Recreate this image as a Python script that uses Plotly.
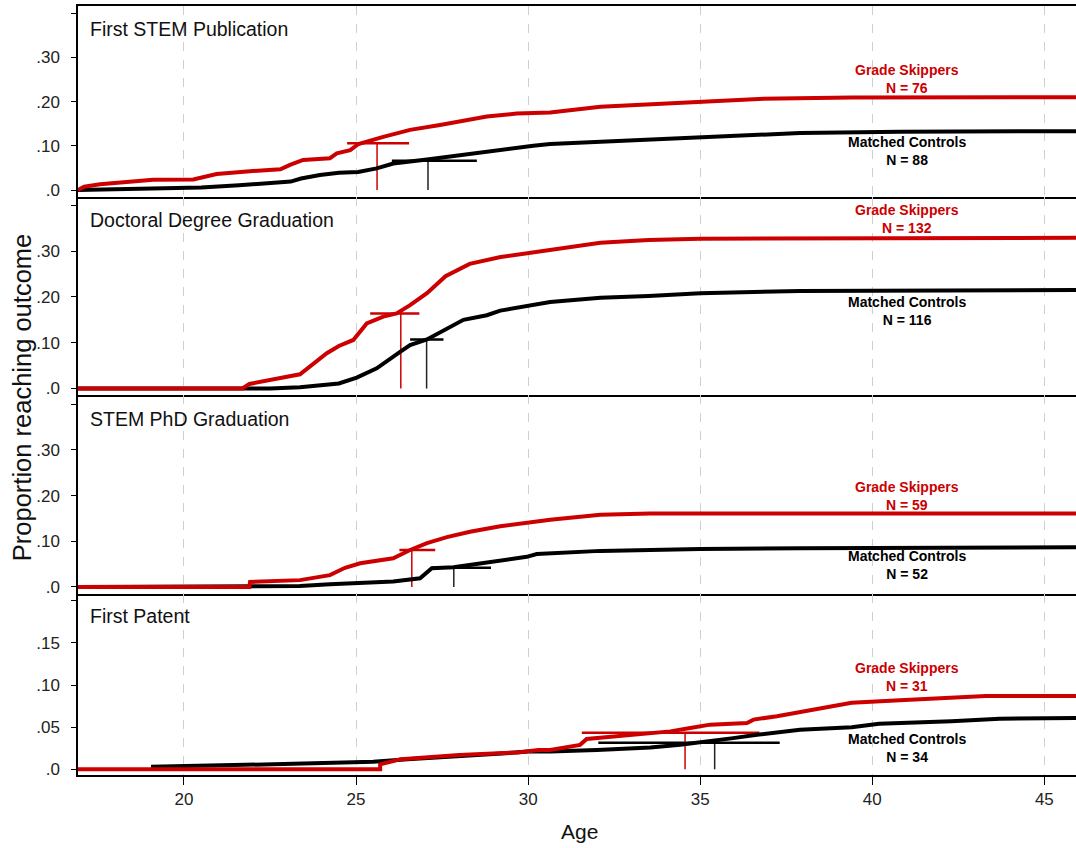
import plotly.graph_objects as go

# ---------------- data ----------------
panel_titles = ["First STEM Publication", "Doctoral Degree Graduation",
                "STEM PhD Graduation", "First Patent"]
n_skippers = [76, 132, 59, 31]
n_controls = [88, 116, 52, 34]

# First STEM Publication
pub_gs_age = [16.92, 17.1, 17.56, 18.33, 19.1, 20.27, 20.95, 22.0, 22.8, 23.08, 23.46, 24.24, 24.44,
              24.83, 25.07, 25.79, 26.18, 26.57, 27.44, 28.2, 28.8, 29.67, 30.64, 32.1, 35.0, 36.7,
              39.4, 45.92]
pub_gs_val = [0.0, 0.0075, 0.013, 0.019, 0.023, 0.024, 0.036, 0.043, 0.047, 0.057, 0.068, 0.072, 0.083,
              0.09, 0.104, 0.12, 0.128, 0.136, 0.147, 0.158, 0.166, 0.173, 0.175, 0.188, 0.199, 0.206,
              0.209, 0.21]
pub_mc_age = [16.92, 18.5, 20.5, 21.6, 23.1, 23.4, 23.95, 24.5, 25.06, 25.6, 26.08, 27.06, 28.2, 29.19,
              30.15, 30.64, 32.1, 35.0, 37.9, 40.8, 45.92]
pub_mc_val = [0.0, 0.002, 0.006, 0.011, 0.019, 0.026, 0.034, 0.039, 0.041, 0.049, 0.06, 0.069, 0.081,
              0.09, 0.1, 0.104, 0.109, 0.12, 0.129, 0.132, 0.133]

# Doctoral Degree Graduation
doc_gs_age = [16.92, 21.7, 21.9, 22.6, 23.37, 24.15, 24.5, 24.92, 25.31, 25.79, 26.18, 26.57, 27.06,
              27.6, 28.3, 29.2, 30.64, 32.1, 33.5, 35.0, 45.92]
doc_gs_val = [0.0, 0.0, 0.01, 0.019, 0.031, 0.077, 0.093, 0.106, 0.142, 0.157, 0.164, 0.182, 0.208,
              0.245, 0.272, 0.287, 0.302, 0.318, 0.324, 0.327, 0.329]
doc_mc_age = [16.92, 22.5, 23.37, 24.5, 25.02, 25.6, 26.28, 26.57, 27.06, 27.73, 28.12, 28.8, 29.19,
              30.64, 32.1, 33.5, 35.0, 37.9, 45.92]
doc_mc_val = [0.0, 0.0, 0.003, 0.011, 0.024, 0.044, 0.08, 0.095, 0.107, 0.135, 0.15, 0.16, 0.17,
              0.189, 0.198, 0.202, 0.208, 0.213, 0.215]

# STEM PhD Graduation
phd_gs_age = [16.92, 21.9, 21.92, 23.37, 24.24, 24.68, 25.12, 25.6, 26.08, 26.57, 27.06, 27.64, 28.31,
              29.19, 30.64, 32.1, 33.55, 45.92]
phd_gs_val = [0.0, 0.0, 0.011, 0.015, 0.026, 0.042, 0.052, 0.058, 0.063, 0.081, 0.096, 0.109, 0.121,
              0.133, 0.147, 0.158, 0.161, 0.161]
phd_mc_age = [16.92, 22.2, 23.37, 24.24, 25.12, 26.08, 26.86, 27.2, 27.83, 28.31, 28.99, 29.96, 30.25,
              30.93, 32.1, 35.0, 37.9, 45.92]
phd_mc_val = [0.0, 0.0, 0.002, 0.006, 0.008, 0.012, 0.019, 0.041, 0.043, 0.048, 0.055, 0.066, 0.072,
              0.074, 0.079, 0.083, 0.085, 0.087]

# First Patent
pat_gs_age = [16.92, 25.7, 25.7, 26.3, 27.3, 28.0, 29.7, 30.3, 30.64, 31.51, 31.7, 33.05, 34.13, 34.71,
              35.29, 36.36, 36.55, 37.23, 37.8, 38.5, 39.4, 40.8, 43.3, 45.92]
pat_gs_val = [0.0, 0.0, 0.006, 0.012, 0.015, 0.017, 0.02, 0.023, 0.023, 0.029, 0.036, 0.041, 0.045,
              0.049, 0.053, 0.055, 0.059, 0.063, 0.067, 0.072, 0.079, 0.082, 0.087, 0.087]
pat_mc_age = [19.1, 19.1, 22.6, 25.5, 26.5, 28.0, 29.0, 30.0, 30.64, 32.0, 33.55, 34.42, 35.29, 35.96,
              36.65, 37.42, 37.9, 39.4, 40.2, 42.3, 43.7, 45.92]
pat_mc_val = [0.0, 0.003, 0.006, 0.009, 0.012, 0.015, 0.018, 0.021, 0.021, 0.023, 0.026, 0.029, 0.033,
              0.037, 0.041, 0.045, 0.047, 0.05, 0.054, 0.057, 0.06, 0.061]

# median age markers (vertical line) and interval (horizontal line)
gs_mark_age = [25.61, 26.30, 26.62, 34.56]
gs_mark_val = [0.106, 0.164, 0.081, 0.0435]
gs_int_lo = [24.74, 25.41, 26.26, 31.56]
gs_int_hi = [26.54, 26.84, 27.30, 36.72]
mc_mark_age = [27.09, 27.05, 27.84, 35.42]
mc_mark_val = [0.066, 0.107, 0.042, 0.0316]
mc_int_lo = [26.04, 26.57, 27.20, 32.04]
mc_int_hi = [28.51, 27.54, 28.92, 37.31]

# label positions (in data units)
label_x = [41, 41, 41, 41]
gs_label_y = [0.25, 0.371, 0.2, 0.109]
mc_label_y = [0.089, 0.170, 0.049, 0.0247]

# tick labels
y_tickvals = [[0, 0.1, 0.2, 0.3, 0.4]] * 3 + [[0, 0.05, 0.1, 0.15, 0.2]]
y_ticktext = [[".0", ".10", ".20", ".30", ""]] * 3 + [[".0", ".05", ".10", ".15", ""]]
x_tickvals = [20, 25, 30, 35, 40, 45]

# ---------------- layout settings ----------------
RED = "#cc0000"
BLACK = "#000000"
FONT = "Liberation Sans, Arial, Helvetica, sans-serif"
y_domains = [[0.7516, 1.0], [0.4941, 0.7516], [0.2354, 0.4941], [0.0, 0.2354]]
y_ranges = [[-0.0158, 0.416], [-0.0142, 0.418], [-0.0153, 0.420], [-0.0068, 0.2082]]
x_range = [16.92, 45.92]

series = [
    (pub_gs_age, pub_gs_val, pub_mc_age, pub_mc_val),
    (doc_gs_age, doc_gs_val, doc_mc_age, doc_mc_val),
    (phd_gs_age, phd_gs_val, phd_mc_age, phd_mc_val),
    (pat_gs_age, pat_gs_val, pat_mc_age, pat_mc_val),
]

fig = go.Figure()
annotations = []
for i in range(4):
    xa = "x" if i == 0 else f"x{i+1}"
    ya = "y" if i == 0 else f"y{i+1}"
    gs_a, gs_v, mc_a, mc_v = series[i]
    # interval markers
    fig.add_trace(go.Scatter(x=[mc_mark_age[i], mc_mark_age[i]], y=[0, mc_mark_val[i]], mode="lines",
                             line=dict(color="#222222", width=1.5), xaxis=xa, yaxis=ya, showlegend=False))
    fig.add_trace(go.Scatter(x=[mc_int_lo[i], mc_int_hi[i]], y=[mc_mark_val[i]] * 2, mode="lines",
                             line=dict(color=BLACK, width=2.5), xaxis=xa, yaxis=ya, showlegend=False))
    fig.add_trace(go.Scatter(x=[gs_mark_age[i], gs_mark_age[i]], y=[0, gs_mark_val[i]], mode="lines",
                             line=dict(color=RED, width=1.5), xaxis=xa, yaxis=ya, showlegend=False))
    fig.add_trace(go.Scatter(x=[gs_int_lo[i], gs_int_hi[i]], y=[gs_mark_val[i]] * 2, mode="lines",
                             line=dict(color=RED, width=2.5), xaxis=xa, yaxis=ya, showlegend=False))
    # curves
    fig.add_trace(go.Scatter(x=mc_a, y=mc_v, mode="lines", line=dict(color=BLACK, width=4),
                             xaxis=xa, yaxis=ya, showlegend=False))
    fig.add_trace(go.Scatter(x=gs_a, y=gs_v, mode="lines", line=dict(color=RED, width=4),
                             xaxis=xa, yaxis=ya, showlegend=False))

    # axes
    xkey = "xaxis" if i == 0 else f"xaxis{i+1}"
    ykey = "yaxis" if i == 0 else f"yaxis{i+1}"
    last = (i == 3)
    fig.update_layout(**{
        xkey: dict(domain=[0, 1], anchor=ya, range=x_range,
                   matches=None if i == 0 else "x",
                   showline=True, linecolor=BLACK, linewidth=2, mirror=(i == 0),
                   showgrid=True, gridcolor="#cfcfcf", griddash="dash", gridwidth=1,
                   zeroline=False, tickvals=x_tickvals,
                   ticks="outside" if last else "", ticklen=8, tickwidth=1.2, tickcolor=BLACK,
                   showticklabels=last,
                   tickfont=dict(family=FONT, size=17, color="#222222")),
        ykey: dict(domain=y_domains[i], anchor=xa, range=y_ranges[i],
                   showline=True, linecolor=BLACK, linewidth=1.5,
                   showgrid=False, zeroline=False,
                   tickvals=y_tickvals[i], ticktext=y_ticktext[i],
                   ticks="outside", ticklen=5, tickwidth=1, tickcolor=BLACK,
                   ticklabelstandoff=8,
                   tickfont=dict(family=FONT, size=17, color="#222222")),
    })

    # panel title
    annotations.append(dict(text=panel_titles[i], xref=f"{xa} domain", yref=f"{ya} domain",
                            x=0.010, y=[0.88, 0.884, 0.879, 0.878][i], xanchor="left", yanchor="middle",
                            showarrow=False, font=dict(family=FONT, size=19.5, color="#111111")))
    annotations.append(dict(text=f"<b>Grade Skippers<br>N = {n_skippers[i]}</b>", xref=xa, yref=ya,
                            x=label_x[i], y=gs_label_y[i], showarrow=False, align="center",
                            font=dict(family=FONT, size=14, color=RED)))
    annotations.append(dict(text=f"<b>Matched Controls<br>N = {n_controls[i]}</b>", xref=xa, yref=ya,
                            x=label_x[i], y=mc_label_y[i], showarrow=False, align="center",
                            font=dict(family=FONT, size=14, color=BLACK)))

annotations.append(dict(text="Age", xref="paper", yref="paper", x=0.503, y=-0.0741,
                        xanchor="center", yanchor="middle", showarrow=False,
                        font=dict(family=FONT, size=21, color="#111111")))
annotations.append(dict(text="Proportion reaching outcome", xref="paper", yref="paper",
                        x=-0.0561, y=0.49, textangle=-90, xanchor="center", yanchor="middle",
                        showarrow=False, font=dict(family=FONT, size=25.5, color="#111111")))

fig.update_layout(
    width=1076, height=848,
    margin=dict(l=78, r=0, t=6, b=73),
    paper_bgcolor="white", plot_bgcolor="white",
    annotations=annotations,
    showlegend=False,
    font=dict(family=FONT),
)

fig.write_html("out.html")
